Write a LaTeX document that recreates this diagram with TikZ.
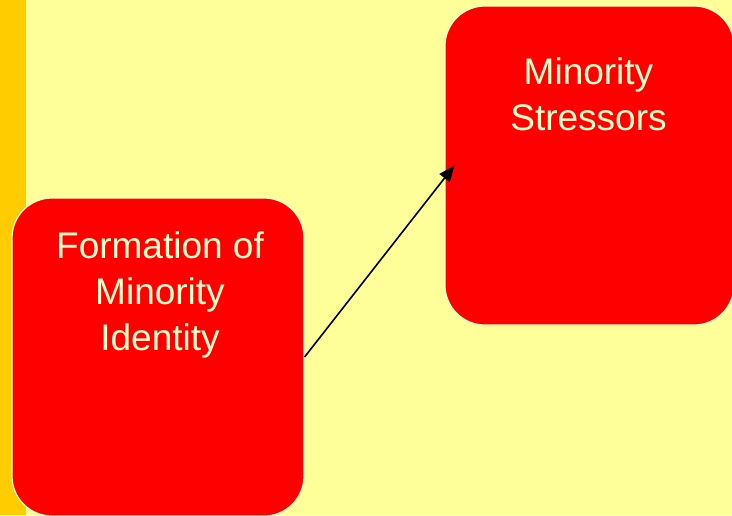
\documentclass[tikz,border=0pt]{standalone}
\usepackage{fontspec}
\setmainfont{Liberation Sans}
\usepackage{tikz}
\usetikzlibrary{arrows.meta,positioning}
\definecolor{paleyellow}{HTML}{FFFF99}
\definecolor{stripe}{HTML}{FFCC00}
\definecolor{boxred}{HTML}{FF0000}
\definecolor{cream}{HTML}{FFFFCC}
\tikzset{
  redbox/.style={rectangle,rounded corners=40pt,draw=cream,line width=1.2pt,fill=boxred,
    minimum width=292pt,minimum height=318pt,inner sep=0pt},
  boxtext/.style={align=center,text=cream,inner sep=0pt,
    font=\fontsize{37}{46}\selectfont},
  arrow/.style={-{Triangle[length=16pt,width=13pt]},line width=1.6pt,draw=black}
}
\begin{document}
\begin{tikzpicture}[x=1pt,y=-1pt]
\useasboundingbox (0,0) rectangle (732,515);
\fill[paleyellow] (0,0) rectangle (732,515);
\fill[stripe] (0,0) rectangle (26,515);
\node[redbox] (ident) at (158,357) {};
\node[redbox,minimum width=289pt,minimum height=319pt] (stress) at (589.5,165.5) {};
\node[boxtext,below=34pt of ident.north,xshift=2pt] (identtxt) {Formation of\\Minority\\Identity};
\node[boxtext,below=52pt of stress.north,xshift=-1pt] (stresstxt) {Minority\\Stressors};
\draw[arrow] (ident.east) -- ([xshift=10pt]stress.west);
\end{tikzpicture}
\end{document}
